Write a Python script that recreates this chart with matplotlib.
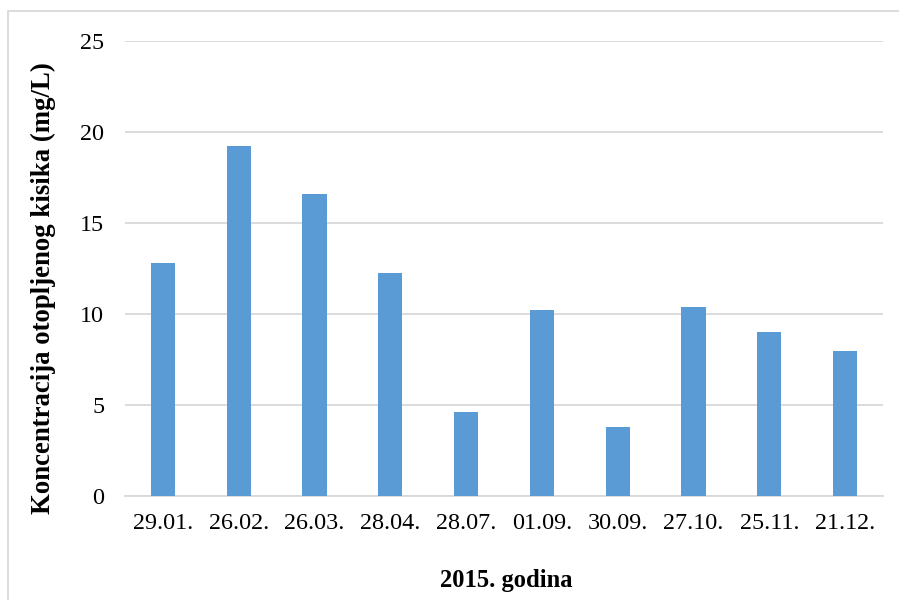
import matplotlib.pyplot as plt
from matplotlib.patches import Rectangle

# data
datumi = ['29.01.', '26.02.', '26.03.', '28.04.', '28.07.',
          '01.09.', '30.09.', '27.10.', '25.11.', '21.12.']
kisik = [12.8, 19.25, 16.6, 12.25, 4.6, 10.2, 3.8, 10.4, 9.0, 7.95]
y_ticks = [0, 5, 10, 15, 20, 25]

plt.rcParams['font.family'] = ['Liberation Serif', 'DejaVu Serif']

fig = plt.figure(figsize=(8.99, 6.0), dpi=100)
ax = fig.add_axes([125 / 899, 104 / 600, 758 / 899, 455 / 600])

# okvir grafikona
fig.patches.append(Rectangle((8 / 899, -0.05), 1.0, (589 / 600) + 0.05,
                             transform=fig.transFigure, fill=False,
                             edgecolor='#D9D9D9', linewidth=1.3))

x = range(len(datumi))
ax.bar(x, kisik, width=0.32, color='#5B9BD5', zorder=3)

ax.set_xlim(-0.5, len(datumi) - 0.5)
ax.set_ylim(0, 25)
ax.set_yticks(y_ticks)
ax.set_xticks(list(x))
ax.set_xticklabels(datumi)
ax.grid(axis='y', color='#D9D9D9', linewidth=1.3, zorder=0)
for s in ['top', 'right', 'left']:
    ax.spines[s].set_visible(False)
ax.spines['bottom'].set_color('#D9D9D9')
ax.spines['bottom'].set_linewidth(1.3)
ax.tick_params(axis='both', length=0, labelsize=17.4, colors='black')
ax.tick_params(axis='y', pad=15)
ax.tick_params(axis='x', pad=12)

fig.text(43 / 899, 1 - 288 / 600, 'Koncentracija otopljenog kisika (mg/L)',
         rotation=90, ha='center', va='center', fontsize=19.3, fontweight='bold')
fig.text(506 / 899, 1 - 580 / 600, '2015. godina', ha='center', va='center',
         fontsize=17.7, fontweight='bold')

plt.savefig('out.png', dpi=100)
